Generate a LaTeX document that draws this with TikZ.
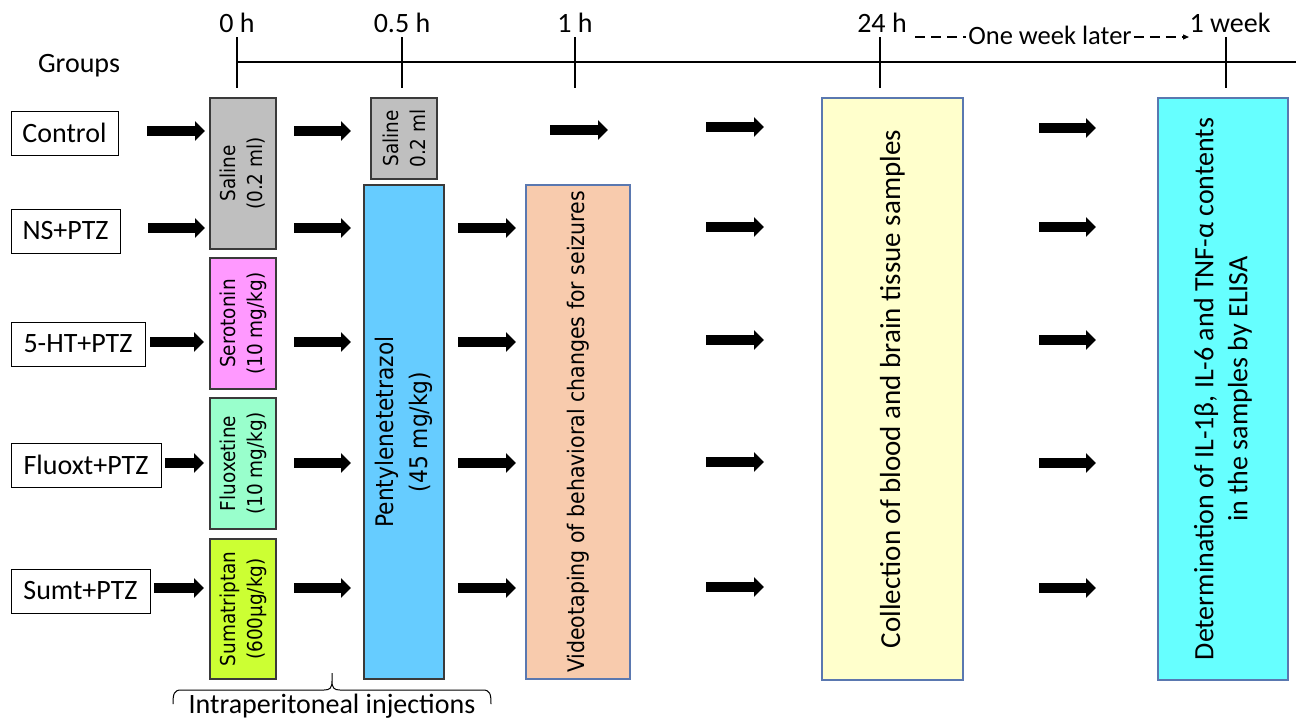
\documentclass[tikz,border=0pt]{standalone}
\usepackage{fontspec}
\setmainfont{Carlito}
\newfontfamily\verd{DejaVu Sans Condensed}
\usetikzlibrary{arrows.meta}
\definecolor{cgray}{HTML}{BFBFBF}
\definecolor{cpink}{HTML}{FF99FF}
\definecolor{cmint}{HTML}{99FFCC}
\definecolor{clime}{HTML}{CCFF33}
\definecolor{cblue}{HTML}{66CCFF}
\definecolor{cpeach}{HTML}{F8CBAD}
\definecolor{cyell}{HTML}{FFFFCC}
\definecolor{ccyan}{HTML}{66FFFF}
\definecolor{bdark}{HTML}{3A3A3A}
\definecolor{bblue}{HTML}{5A78B0}
\tikzset{
  grp/.style={draw=black, line width=1pt, minimum height=44pt, inner sep=0pt,
    font=\fontsize{28}{34}\selectfont},
  vbox/.style={draw=bdark, line width=1.2pt, rotate=90, inner sep=0pt, align=center,
    font=\verd\fontsize{20.5}{27}\selectfont},
  bigbox/.style={draw=bblue, line width=1.2pt, rotate=90, inner sep=0pt, align=center},
  fat/.style={line width=10pt, -{Triangle[length=10pt,width=19pt]}},
  tlabel/.style={anchor=base, inner sep=0pt, font=\fontsize{28}{34}\selectfont},
  tline/.style={line width=1.4pt},
}
\begin{document}
\begin{tikzpicture}[x=1pt,y=-1pt]
\useasboundingbox (0,0) rectangle (1296,720);

% timeline
\coordinate (tl0) at (237,62);
\coordinate (tl1) at (1296,62);
\draw[tline] (tl0) -- (tl1);
\foreach \n/\x in {k0/237,k1/402,k2/575,k3/880,k4/1226}{
  \coordinate (\n a) at (\x,37);
  \coordinate (\n b) at (\x,88);
  \draw[tline] (\n a) -- (\n b);
}
\node[tlabel] (l0) at (237,32) {0 h};
\node[tlabel] (l1) at (402,32) {0.5 h};
\node[tlabel] (l2) at (575,32) {1 h};
\node[tlabel] (l3) at (882,32) {24 h};
\node[tlabel] (l4) at (1230,32) {1 week};
\node[tlabel] (groups) at (79,72) {Groups};

% one week later
\node[anchor=base, inner sep=2pt, font=\fontsize{26.5}{30}\selectfont] (owl) at (1050,44) {One week later};
\coordinate (dw1) at (915,37);
\coordinate (dw2) at (1189,37);
\draw[line width=1.3pt, dash pattern=on 10pt off 6pt] (dw1) -- (owl.west |- dw1);
\draw[line width=1.3pt, dash pattern=on 10pt off 6pt, -{Triangle[length=6pt,width=5pt]}] (owl.east |- dw2) -- (dw2);

% group boxes
\node[grp, minimum width=107pt] (ctrl) at (64.5,133) {Control};
\node[grp, minimum width=109pt] (ns) at (65.5,231) {NS+PTZ};
\node[grp, minimum width=134pt] (ht) at (78,344) {5-HT+PTZ};
\node[grp, minimum width=150pt] (flx) at (86,465) {Fluoxt+PTZ};
\node[grp, minimum width=139pt] (smt) at (80.5,591) {Sumt+PTZ};

% injection boxes
\node[vbox, fill=cgray, minimum width=151pt, minimum height=66pt] (sal1) at (243,173.5) {Saline\\(0.2 ml)};
\node[vbox, fill=cgray, minimum width=81pt, minimum height=66pt] (sal2) at (404,138.5) {Saline\\0.2 ml};
\node[vbox, fill=cpink, minimum width=131pt, minimum height=66pt] (sero) at (243,323.5) {Serotonin\\(10 mg/kg)};
\node[vbox, fill=cmint, minimum width=131pt, minimum height=66pt] (flu) at (243,463.5) {Fluoxetine\\(10 mg/kg)};
\node[vbox, fill=clime, minimum width=140pt, minimum height=66pt] (suma) at (243,609) {Sumatriptan\\(600μg/kg)};
\node[vbox, fill=cblue, minimum width=494pt, minimum height=80pt,
  font=\verd\fontsize{24.2}{34}\selectfont] (ptz) at (404,432) {Pentylenetetrazol\\(45 mg/kg)};
\node[bigbox, fill=cpeach, minimum width=494pt, minimum height=104pt,
  font=\verd\fontsize{22.8}{27}\selectfont] (vid) at (578,432) {Videotaping of behavioral changes for seizures};
\node[bigbox, fill=cyell, minimum width=582pt, minimum height=141pt,
  font=\fontsize{29}{35}\selectfont] (coll) at (892.5,389) {Collection of blood and brain tissue samples};
\node[bigbox, fill=ccyan, minimum width=582pt, minimum height=130pt,
  font=\fontsize{28}{34}\selectfont] (det) at (1223,389) {Determination of IL-1β, IL-6 and TNF-α contents\\in the samples by ELISA};

% arrows
\foreach \n/\xa/\xb/\y in {
  a1/147/205/131, a2/148/205/228, a3/150/204/342, a4/165/204/463, a5/154/204/588,
  b1/294/351/131, b2/294/351/228, b3/294/351/342, b4/294/351/463, b5/294/351/588,
  c1/550/608/130, c2/458/516/228, c3/458/516/342, c4/458/516/463, c5/458/516/588,
  d1/706/764/127, d2/706/764/227, d3/706/764/340, d4/706/764/462, d5/706/764/587,
  e1/1039/1096/128, e2/1039/1096/227, e3/1039/1096/340, e4/1039/1096/463, e5/1039/1096/588}{
  \coordinate (\n s) at (\xa,\y);
  \coordinate (\n e) at (\xb,\y);
  \draw[fat] (\n s) -- (\n e);
}

% brace
\draw[line width=1pt, line join=miter]
  (173,704) .. controls (173,694) and (174,690) .. (181,690) -- (324,690)
  .. controls (330,690) and (332,688) .. (332,681) -- (332,673)
  (332,681) .. controls (332,688) and (334,690) .. (340,690) -- (483,690)
  .. controls (490,690) and (491,694) .. (491,704);
\node[anchor=base, inner sep=0pt, font=\fontsize{28}{34}\selectfont] (inj) at (332,713) {Intraperitoneal injections};
\end{tikzpicture}
\end{document}
